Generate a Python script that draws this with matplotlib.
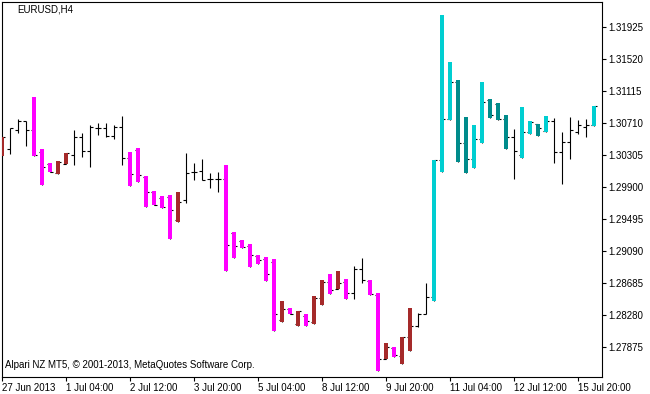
import matplotlib.pyplot as plt
import numpy as np

plt.rcParams['font.family'] = ['Liberation Sans', 'DejaVu Sans']

# EURUSD H4 bars, 27 Jun - 15 Jul 2013
opens = [1.30301, 1.30373, 1.30614, 1.30732, 1.30618, 1.30339, 1.30187, 1.30074, 1.30194, 1.30298,
         1.30533, 1.30348, 1.30643, 1.30639, 1.30542, 1.30656, 1.30263, 1.30365, 1.30023, 1.29833,
         1.29757, 1.29770, 1.29479, 1.29732, 1.30086, 1.30105, 1.29994, 1.30001, 1.29998, 1.29314,
         1.29213, 1.29150, 1.29023, 1.28985, 1.28947, 1.28213, 1.28352, 1.28163, 1.28264, 1.28188,
         1.28498, 1.28694, 1.28605, 1.28694, 1.28551, 1.28855, 1.28707, 1.28530, 1.27726, 1.27859,
         1.27757, 1.27998, 1.28137, 1.28295, 1.28500, 1.30238, 1.30753, 1.31225, 1.30449, 1.30247,
         1.30500, 1.30997, 1.30947, 1.30757, 1.30533, 1.30301, 1.30596, 1.30694, 1.30605, 1.30728,
         1.30339, 1.30462, 1.30596, 1.30660, 1.30677]
highs = [1.30533, 1.30639, 1.30757, 1.30732, 1.31035, 1.30377, 1.30200, 1.30229, 1.30330, 1.30618,
         1.30576, 1.30677, 1.30710, 1.30710, 1.30681, 1.30795, 1.30343, 1.30390, 1.30039, 1.29850,
         1.29782, 1.29795, 1.29833, 1.30323, 1.30200, 1.30247, 1.30070, 1.30086, 1.30179, 1.29333,
         1.29226, 1.29175, 1.29040, 1.29010, 1.28981, 1.28454, 1.28365, 1.28331, 1.28289, 1.28517,
         1.28719, 1.28799, 1.28836, 1.28732, 1.28896, 1.28994, 1.28719, 1.28551, 1.27918, 1.27871,
         1.28002, 1.28369, 1.28302, 1.28678, 1.30238, 1.32073, 1.31478, 1.31251, 1.30782, 1.30681,
         1.31229, 1.31006, 1.30956, 1.30808, 1.30630, 1.30913, 1.30732, 1.30697, 1.30795, 1.30766,
         1.30596, 1.30778, 1.30744, 1.30753, 1.30925]
lows = [1.30292, 1.30310, 1.30584, 1.30415, 1.30292, 1.29918, 1.30086, 1.30057, 1.30187, 1.30179,
        1.30272, 1.30146, 1.30554, 1.30533, 1.30500, 1.30175, 1.29905, 1.29960, 1.29639, 1.29665,
        1.29634, 1.29234, 1.29453, 1.29690, 1.29979, 1.29979, 1.29880, 1.29837, 1.28837, 1.28994,
        1.29120, 1.28888, 1.28918, 1.28707, 1.28074, 1.28184, 1.28289, 1.28137, 1.28137, 1.28159,
        1.28399, 1.28538, 1.28602, 1.28479, 1.28483, 1.28678, 1.28530, 1.27568, 1.27716, 1.27749,
        1.27656, 1.27821, 1.28124, 1.28289, 1.28454, 1.30082, 1.30744, 1.30217, 1.30070, 1.30133,
        1.30449, 1.30766, 1.30744, 1.30373, 1.30001, 1.30260, 1.30567, 1.30542, 1.30589, 1.30204,
        1.29934, 1.30251, 1.30563, 1.30533, 1.30665]
closes = [1.30529, 1.30639, 1.30732, 1.30614, 1.30305, 1.30146, 1.30086, 1.30217, 1.30327, 1.30533,
          1.30348, 1.30656, 1.30643, 1.30542, 1.30656, 1.30263, 1.30057, 1.30044, 1.29833, 1.29669,
          1.29639, 1.29605, 1.29707, 1.30070, 1.30092, 1.29985, 1.29994, 1.30001, 1.29159, 1.29150,
          1.29133, 1.29032, 1.28972, 1.28792, 1.28285, 1.28352, 1.28295, 1.28327, 1.28207, 1.28498,
          1.28690, 1.28593, 1.28685, 1.28551, 1.28855, 1.28719, 1.28538, 1.27716, 1.27871, 1.27770,
          1.27998, 1.28137, 1.28289, 1.28500, 1.30238, 1.30753, 1.31225, 1.30449, 1.30247, 1.30500,
          1.30968, 1.30804, 1.30753, 1.30533, 1.30352, 1.30596, 1.30719, 1.30639, 1.30728, 1.30339,
          1.30462, 1.30618, 1.30677, 1.30677, 1.30925]

# indicator colour per bar: k = none, m = down, b = down-trend pullback, t = up, d = up-trend pullback
trend = ("bkkkmmmbbk" "kkkkkkmmmm" "mmbkkkkkmm" "mmmmmbmbmb" "bmbmkkmmbm"
         "bbkktttddt" "tdddkttdtk" "kkkkt")
palette = {'m': '#ff00ff', 'b': '#a52a2a', 't': '#00ced1', 'd': '#008b8b'}

date_labels = ['27 Jun 2013', '1 Jul 04:00', '2 Jul 12:00', '3 Jul 20:00', '5 Jul 04:00',
               '8 Jul 12:00', '9 Jul 20:00', '11 Jul 04:00', '12 Jul 12:00', '15 Jul 20:00']
price_ticks = [1.27875, 1.28280, 1.28685, 1.29090, 1.29495, 1.29900,
               1.30305, 1.30710, 1.31115, 1.31520, 1.31925]

fig = plt.figure(figsize=(6.5, 3.94), dpi=100)
ax = fig.add_axes([2 / 650, 17 / 394, 599.5 / 650, 375 / 394])

x = np.arange(len(opens))
o = np.array(opens)
h = np.array(highs)
l = np.array(lows)
c = np.array(closes)

# plain chart bars
ax.vlines(x, l, h, color='black', lw=0.8)
ax.hlines(o, x - 0.4, x, color='black', lw=0.8)
ax.hlines(c, x, x + 0.4, color='black', lw=0.8)

# thick indicator bars on top
for key, col in palette.items():
    idx = np.array([i for i, t in enumerate(trend) if t == key])
    ax.bar(idx, h[idx] - l[idx], bottom=l[idx], width=0.5, color=col, zorder=3, linewidth=0)

ax.set_xlim(0, 74.94)
ax.set_ylim(1.27492, 1.32238)

ax.yaxis.tick_right()
ax.set_yticks(price_ticks)
ax.set_yticklabels([f'{p:.5f}' for p in price_ticks])
ax.set_xticks(np.arange(0, 80, 8))
ax.set_xticklabels(date_labels, ha='left')
ax.tick_params(axis='both', direction='out', length=3, width=0.8, labelsize=7, pad=1)
ax.tick_params(axis='y', pad=2)
for s in ax.spines.values():
    s.set_linewidth(0.8)

fig.text(17 / 650, 1 - 10 / 394, 'EURUSD,H4', fontsize=7, va='center')
fig.text(5 / 650, 1 - 365.5 / 394, 'Alpari NZ MT5, © 2001-2013, MetaQuotes Software Corp.',
         fontsize=7, va='center')

fig.savefig('out.png', dpi=100)
